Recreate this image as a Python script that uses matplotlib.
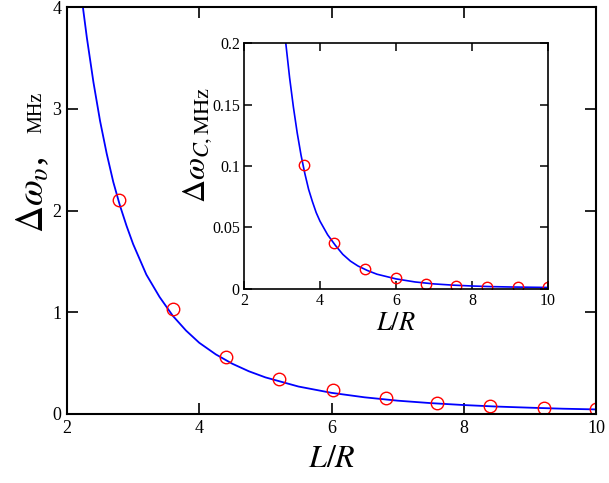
import numpy as np
import matplotlib
matplotlib.use('Agg')
import matplotlib.pyplot as plt

plt.rcParams['font.family'] = ['Liberation Serif', 'DejaVu Serif']
plt.rcParams['mathtext.fontset'] = 'stix'

# Curva ajustada y puntos medidos (grafica principal)
curve_x = [2.24, 2.30, 2.40, 2.50, 2.60, 2.70, 2.80, 2.90, 3.00, 3.20, 3.40, 3.60,
           3.80, 4.00, 4.25, 4.50, 4.75, 5.00, 5.50, 6.00, 6.50, 7.00, 7.50, 8.00,
           8.50, 9.00, 9.50, 10.0]
curve_y = [4.00, 3.70, 3.26, 2.88, 2.56, 2.28, 2.05, 1.85, 1.67, 1.37, 1.15, 0.965,
           0.82, 0.70, 0.586, 0.494, 0.42, 0.36, 0.27, 0.208, 0.164, 0.131, 0.107, 0.088,
           0.073, 0.062, 0.052, 0.045]
pts_x = [2.78, 3.60, 4.40, 5.20, 6.02, 6.82, 7.60, 8.40, 9.22, 10.0]
pts_y = [2.10, 1.03, 0.56, 0.34, 0.235, 0.155, 0.11, 0.078, 0.06, 0.046]

# Grafica interior
in_curve_x = [3.10, 3.20, 3.30, 3.40, 3.50, 3.60, 3.70, 3.80, 3.90, 4.00, 4.20, 4.40,
              4.60, 4.80, 5.00, 5.25, 5.50, 6.00, 6.50, 7.00, 7.50, 8.00, 8.50, 9.00,
              9.50, 10.0]
in_curve_y = [0.200, 0.172, 0.148, 0.127, 0.109, 0.094, 0.081, 0.071, 0.062, 0.055, 0.044, 0.0355,
              0.028, 0.0225, 0.0185, 0.0148, 0.0118, 0.0080, 0.0055, 0.0039, 0.0029, 0.0022, 0.0017, 0.0014,
              0.0012, 0.0010]
in_pts_x = [3.57, 4.38, 5.18, 6.00, 6.78, 7.58, 8.40, 9.20, 10.0]
in_pts_y = [0.101, 0.0375, 0.0158, 0.0085, 0.0035, 0.0025, 0.0015, 0.0012, 0.0010]

main_xticks = [2, 4, 6, 8, 10]
main_yticks = [0, 1, 2, 3, 4]
in_yticks = [0, 0.05, 0.1, 0.15, 0.2]
in_yticklabels = ['0', '0.05', '0.1', '0.15', '0.2']

W, H = 609, 483
fig = plt.figure(figsize=(W/100, H/100), dpi=100)

ax = fig.add_axes([67/W, 1-414/H, (596-67)/W, (414-7)/H])
ax.plot(curve_x, curve_y, '-', color='#0000ff', lw=1.3)
ax.plot(pts_x, pts_y, 'o', mfc='none', mec='#ff0000', ms=9, mew=1.0)
ax.set_xlim(2, 10); ax.set_xticks(main_xticks)
ax.set_ylim(0, 4); ax.set_yticks(main_yticks)
ax.tick_params(direction='in', length=8, width=1.2, top=True, right=True,
               labelsize=13, pad=4, colors='black')
for s in ax.spines.values():
    s.set_linewidth(1.5)
ax.set_xlabel('$L/R$', fontsize=23, labelpad=6)

axi = fig.add_axes([244/W, 1-288.7/H, (548-244)/W, (288.7-43.3)/H])
axi.plot(in_curve_x, in_curve_y, '-', color='#0000ff', lw=1.2)
axi.plot(in_pts_x, in_pts_y, 'o', mfc='none', mec='#ff0000', ms=7.5, mew=1.0)
axi.set_xlim(2, 10); axi.set_xticks(main_xticks)
axi.set_ylim(0, 0.2); axi.set_yticks(in_yticks, in_yticklabels)
axi.tick_params(direction='in', length=6, width=1.1, top=True, right=True,
                labelsize=11.5, pad=3, colors='black')
for s in axi.spines.values():
    s.set_linewidth(1.2)
axi.set_xlabel('$L/R$', fontsize=19, labelpad=3)

# Etiquetas de los ejes y
fig.text(43/W, 1-233/H, r'$\Delta\omega_{\upsilon}$,', fontsize=27, rotation=90,
         rotation_mode='anchor', ha='left', va='baseline')
fig.text(41/W, 1-133/H, 'MHz', fontsize=14.5, rotation=90,
         rotation_mode='anchor', ha='left', va='baseline')
fig.text(205/W, 1-203/H, r'$\Delta\omega_{C,\mathrm{MHz}}$', fontsize=23, rotation=90,
         rotation_mode='anchor', ha='left', va='baseline')

fig.savefig('out.png', dpi=100)
